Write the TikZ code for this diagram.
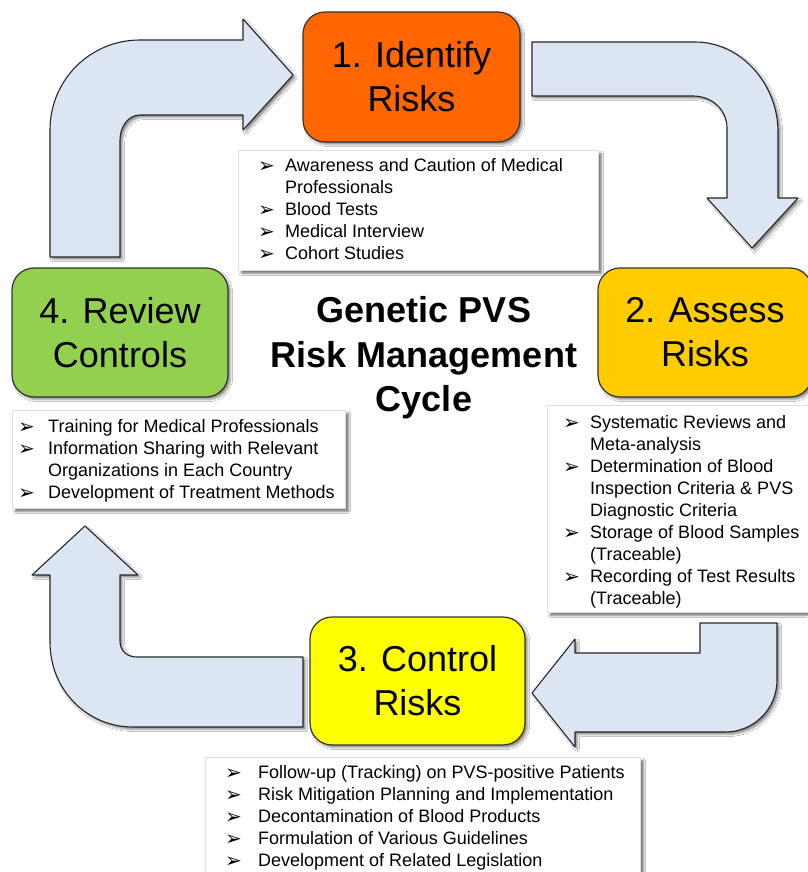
\documentclass[tikz,border=0pt]{standalone}
\usepackage{fontspec}
\setmainfont{Liberation Sans}
\newfontfamily\dejavu{DejaVu Sans}
\usetikzlibrary{shadows.blur}
\definecolor{arrowfill}{HTML}{DCE6F2}
\definecolor{c1}{HTML}{FF6600}
\definecolor{c2}{HTML}{FFCC00}
\definecolor{c3}{HTML}{FFFF00}
\definecolor{c4}{HTML}{92D050}
\newcommand{\bul}[1][27pt]{\makebox[#1][l]{\raisebox{-0.5pt}{\dejavu\fontsize{20}{20}\selectfont ➢}}}
\newcommand{\ind}[1][27pt]{\hspace*{#1}}
\begin{document}
\begin{tikzpicture}[x=1pt,y=-1pt,
  bigarrow/.style={fill=arrowfill,draw=black!85,line width=1.1pt,line join=round,
    blur shadow={shadow xshift=2.5pt,shadow yshift=-2.5pt,shadow opacity=45}},
  stagebox/.style={draw=black!80,line width=1.2pt,rounded corners=22pt,inner sep=0pt,
    align=center,font=\fontsize{36}{44}\selectfont,
    blur shadow={shadow xshift=2.5pt,shadow yshift=-2.5pt,shadow opacity=45}},
  textbox/.style={fill=white,draw=black!12,line width=0.6pt,inner sep=0pt,anchor=north west,
    blur shadow={shadow xshift=3pt,shadow yshift=-3pt,shadow opacity=55}},
  listtext/.style={anchor=north west,inner sep=0pt,align=left,font=\fontsize{18}{22}\selectfont}
]
\useasboundingbox (0,0) rectangle (807,872);
\fill[white] (0,0) rectangle (807,872);

% arrows
\draw[bigarrow] (50,257) -- (50,130) .. controls (50,80) and (90,40) .. (140,40)
  -- (243,40) -- (243,19) -- (293,75) -- (243,130) -- (243,115) -- (140,115)
  .. controls (128,115) and (120,127) .. (120,140) -- (120,257) -- cycle;
\draw[bigarrow] (532,42) -- (695,42) .. controls (741,42) and (778,84) .. (778,132)
  -- (778,198) -- (798,198) -- (752,248) -- (707,198) -- (727,198) -- (727,128)
  .. controls (727,110) and (712,96) .. (693,96) -- (532,96) -- cycle;
\draw[bigarrow] (777,623) -- (777,680) .. controls (777,709) and (754,732) .. (725,732)
  -- (575,732) -- (575,747) -- (532,693) -- (575,639) -- (575,653) -- (700,653)
  -- (700,623) -- cycle;
\draw[bigarrow] (303,657) -- (137,657) .. controls (127,657) and (120,651) .. (120,641)
  -- (120,575) -- (138,575) -- (85,526) -- (32,575) -- (50,575) -- (50,642)
  .. controls (50,690) and (87,727) .. (133,727) -- (303,727) -- cycle;

% stage boxes
\node[stagebox,fill=c1,minimum width=217pt,minimum height=130pt] (s1) at (411.5,77) {1. Identify\\Risks};
\node[stagebox,fill=c2,minimum width=214pt,minimum height=129pt] (s2) at (705,332.5) {2. Assess\\Risks};
\node[stagebox,fill=c3,minimum width=215pt,minimum height=128pt] (s3) at (417.5,681) {3. Control\\Risks};
\node[stagebox,fill=c4,minimum width=216pt,minimum height=129pt] (s4) at (120,332.5) {4. Review\\Controls};

% title
\node[align=center,font=\bfseries\fontsize{36}{44.5}\selectfont] (title) at (424,358) {Genetic PVS\\Risk Management\\Cycle};

% text boxes
\node[textbox,minimum width=360pt,minimum height=120pt] (tb1) at (238,150) {};
\node[listtext] (tb1t) at ([shift={(20,6)}]tb1.north west) {%
\strut\bul Awareness and Caution of Medical\\
\strut\ind Professionals\\
\strut\bul Blood Tests\\
\strut\bul Medical Interview\\
\strut\bul Cohort Studies};

\node[textbox,minimum width=333pt,minimum height=98pt] (tb4) at (12,410) {};
\node[listtext] (tb4t) at ([shift={(6,7)}]tb4.north west) {%
\strut\bul[25pt] Training for Medical Professionals\\
\strut\bul[25pt] Information Sharing with Relevant\\
\strut\ind[25pt] Organizations in Each Country\\
\strut\bul[25pt] Development of Treatment Methods};

\node[textbox,minimum width=265pt,minimum height=207pt] (tb2) at (547,405) {};
\node[listtext] (tb2t) at ([shift={(16,8)}]tb2.north west) {%
\strut\bul Systematic Reviews and\\
\strut\ind Meta-analysis\\
\strut\bul Determination of Blood\\
\strut\ind Inspection Criteria \& PVS\\
\strut\ind Diagnostic Criteria\\
\strut\bul Storage of Blood Samples\\
\strut\ind (Traceable)\\
\strut\bul Recording of Test Results\\
\strut\ind (Traceable)};

\node[textbox,minimum width=435pt,minimum height=125pt] (tb3) at (205,757) {};
\node[listtext] (tb3t) at ([shift={(20,6)}]tb3.north west) {%
\strut\bul[28pt] Follow-up (Tracking) on PVS-positive Patients\\
\strut\bul[28pt] Risk Mitigation Planning and Implementation\\
\strut\bul[28pt] Decontamination of Blood Products\\
\strut\bul[28pt] Formulation of Various Guidelines\\
\strut\bul[28pt] Development of Related Legislation};
\end{tikzpicture}
\end{document}
